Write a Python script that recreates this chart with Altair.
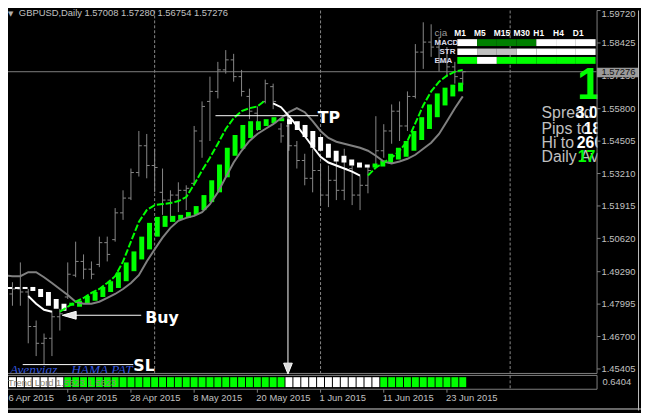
import altair as alt
import pandas as pd

# ---------------- values ----------------
bar_open = [1.4919, 1.4840, 1.4860, 1.4848, 1.4710, 1.4643, 1.4663, 1.4749, 1.4828, 1.4915,
            1.4970, 1.4939, 1.4958, 1.5045, 1.5057, 1.5164, 1.5223, 1.5325, 1.5432, 1.5353,
            1.5246, 1.5215, 1.5235, 1.5254, 1.5282, 1.5451, 1.5609, 1.5649, 1.5735, 1.5775,
            1.5708, 1.5629, 1.5562, 1.5609, 1.5668, 1.5499, 1.5511, 1.5432, 1.5373, 1.5302,
            1.5333, 1.5235, 1.5294, 1.5254, 1.5341, 1.5235, 1.5274, 1.5353, 1.5412, 1.5491,
            1.5570, 1.5511, 1.5629, 1.5806, 1.5846, 1.5826, 1.5767, 1.5747, 1.57008]
bar_high = [1.4978, 1.4887, 1.4966, 1.4860, 1.4734, 1.4682, 1.4773, 1.4781, 1.4966, 1.5049,
            1.4998, 1.4970, 1.5069, 1.5069, 1.5183, 1.5254, 1.5341, 1.5491, 1.5479, 1.5420,
            1.5341, 1.5254, 1.5286, 1.5274, 1.5511, 1.5609, 1.5708, 1.5767, 1.5814, 1.5799,
            1.5735, 1.5660, 1.5589, 1.5696, 1.5680, 1.5522, 1.5550, 1.5451, 1.5400, 1.5420,
            1.5361, 1.5353, 1.5373, 1.5420, 1.5353, 1.5313, 1.5353, 1.5550, 1.5518, 1.5597,
            1.5609, 1.5649, 1.5838, 1.5925, 1.5917, 1.5866, 1.5826, 1.5767, 1.57280]
bar_low = [1.4852, 1.4793, 1.4793, 1.4643, 1.4592, 1.4560, 1.4592, 1.4694, 1.4820, 1.4907,
           1.4899, 1.4899, 1.4947, 1.4970, 1.5049, 1.5136, 1.5215, 1.5309, 1.5302, 1.5246,
           1.5156, 1.5128, 1.5167, 1.5175, 1.5274, 1.5384, 1.5451, 1.5621, 1.5720, 1.5688,
           1.5629, 1.5538, 1.5491, 1.5601, 1.5578, 1.5444, 1.5412, 1.5341, 1.5274, 1.5246,
           1.5195, 1.5187, 1.5215, 1.5215, 1.5195, 1.5175, 1.5242, 1.5341, 1.5384, 1.5440,
           1.5451, 1.5491, 1.5621, 1.5739, 1.5787, 1.5728, 1.5708, 1.5680, 1.56754]
bar_close = [1.4880, 1.4860, 1.4848, 1.4710, 1.4643, 1.4663, 1.4749, 1.4761, 1.4919, 1.4970,
             1.4939, 1.4919, 1.5045, 1.4998, 1.5164, 1.5223, 1.5325, 1.5432, 1.5353, 1.5345,
             1.5215, 1.5235, 1.5254, 1.5262, 1.5491, 1.5589, 1.5649, 1.5735, 1.5775, 1.5708,
             1.5649, 1.5570, 1.5511, 1.5680, 1.5609, 1.5471, 1.5432, 1.5373, 1.5302, 1.5333,
             1.5235, 1.5294, 1.5254, 1.5341, 1.5235, 1.5274, 1.5333, 1.5412, 1.5491, 1.5570,
             1.5511, 1.5629, 1.5806, 1.5846, 1.5826, 1.5767, 1.5747, 1.5708, 1.57276]
ha_open = [1.4868, 1.4868, 1.4868, 1.4868, 1.4860, 1.4848, 1.4820, 1.4801, 1.4793, 1.4789,
           1.4801, 1.4813, 1.4828, 1.4848, 1.4864, 1.4891, 1.4931, 1.4978, 1.5018, 1.5069,
           1.5108, 1.5128, 1.5136, 1.5144, 1.5156, 1.5175, 1.5207, 1.5246, 1.5306, 1.5392,
           1.5420, 1.5463, 1.5495, 1.5511, 1.5522, 1.5530, 1.5538, 1.5530, 1.5515, 1.5491,
           1.5467, 1.5440, 1.5412, 1.5392, 1.5377, 1.5365, 1.5357, 1.5345, 1.5349, 1.5361,
           1.5377, 1.5388, 1.5412, 1.5455, 1.5499, 1.5546, 1.5593, 1.5629, 1.5649]
ha_close = [1.4860, 1.4860, 1.4860, 1.4852, 1.4828, 1.4793, 1.4781, 1.4773, 1.4805, 1.4813,
            1.4832, 1.4848, 1.4868, 1.4891, 1.4927, 1.4966, 1.5010, 1.5069, 1.5124, 1.5148,
            1.5152, 1.5152, 1.5156, 1.5167, 1.5191, 1.5235, 1.5294, 1.5357, 1.5424, 1.5475,
            1.5515, 1.5530, 1.5530, 1.5538, 1.5546, 1.5542, 1.5518, 1.5495, 1.5467, 1.5424,
            1.5412, 1.5384, 1.5369, 1.5365, 1.5353, 1.5345, 1.5345, 1.5361, 1.5373, 1.5400,
            1.5424, 1.5451, 1.5491, 1.5546, 1.5597, 1.5641, 1.5664, 1.5676, 1.5684]
ma_line = [1.4915, 1.4911, 1.4911, 1.4927, 1.4927, 1.4907, 1.4884, 1.4860, 1.4836, 1.4809,
           1.4801, 1.4801, 1.4809, 1.4824, 1.4840, 1.4860, 1.4884, 1.4915, 1.4970, 1.5018,
           1.5065, 1.5104, 1.5132, 1.5144, 1.5152, 1.5167, 1.5199, 1.5246, 1.5306, 1.5365,
           1.5412, 1.5451, 1.5479, 1.5499, 1.5518, 1.5542, 1.5566, 1.5582, 1.5566, 1.5530,
           1.5491, 1.5463, 1.5448, 1.5440, 1.5432, 1.5424, 1.5412, 1.5392, 1.5369, 1.5361,
           1.5369, 1.5380, 1.5396, 1.5420, 1.5444, 1.5479, 1.5530, 1.5582, 1.5629]
# trailing line segments: (first bar, values)
trail_green = [(7, [1.4769, 1.4789, 1.4809, 1.4824, 1.4844, 1.4860, 1.4884, 1.4911, 1.4970, 1.5049,
                    1.5128, 1.5175, 1.5195, 1.5199, 1.5203, 1.5211, 1.5227, 1.5278, 1.5333, 1.5384,
                    1.5440, 1.5499, 1.5542, 1.5570, 1.5582, 1.5589, 1.5613]),
               (46, [1.5313, 1.5345, 1.5365, 1.5384, 1.5412, 1.5451, 1.5522, 1.5593, 1.5649, 1.5688,
                     1.5712, 1.5728, 1.5735])]
trail_white = [(3, [1.4832, 1.4801, 1.4777, 1.4769]),
               (34, [1.5601, 1.5586, 1.5550, 1.5511, 1.5471, 1.5428, 1.5388, 1.5365, 1.5353, 1.5341,
                     1.5329, 1.5313])]
strip_runs = [("W", 8), ("G", 28), ("W", 12), ("G", 11)]

price_ticks = [1.59720, 1.58425, 1.57130, 1.55800, 1.54505, 1.53210, 1.51915,
               1.50620, 1.49290, 1.47995, 1.46700, 1.45405]
date_labels = ["6 Apr 2015", "16 Apr 2015", "28 Apr 2015", "8 May 2015",
               "20 May 2015", "1 Jun 2015", "11 Jun 2015", "23 Jun 2015"]
date_label_bar = [0, 8, 16, 24, 32, 40, 48, 56]
grid_bars = [19, 40, 64]
last_price = 1.57276
title_text = "GBPUSD,Daily  1.57008 1.57280 1.56754 1.57276"

tp_level, tp_from, tp_to, tp_arrow_bar, tp_arrow_end, tp_head = 1.5552, 26.7, 39.7, 35.875, 1.4564, 1.4542
buy_level, buy_from, buy_to, buy_head, buy_text_bar = 1.4755, 9.0, 17.3, 8.19, 17.8
sl_level, sl_from, sl_to = 1.4558, 2.3, 16.3

timeframes = ["M1", "M5", "M15", "M30", "H1", "H4", "D1"]
macd_row = ["W", "G", "G", "G", "W", "W", "W"]
str_row = ["W", "S", "S", "W", "W", "W", "W"]
ema_row = ["L", "W", "L", "L", "L", "L", "L"]
info_labels = ["Spread", "Pips to", "Hi to", "Daily Av"]
info_values = ["3.0", "18", "260", "17"]
signal_count = "1"
strip_label = "Trend Lord 1.5623 1.5623"
strip_value = "0.6404"

# ---------------- styling ----------------
GREY = "#888888"
LIME = "#00ff00"
SANS = "Liberation Sans"
ONE = pd.DataFrame({"k": [0]})

xs = alt.Scale(domain=[0.4375, 80.5625], nice=False, zero=False)
ys = alt.Scale(domain=[1.4374728, 1.5972048], nice=False, zero=False)


def X(f):
    return alt.X(f, type="quantitative", scale=xs, axis=None)


def Y(f):
    return alt.Y(f, type="quantitative", scale=ys, axis=None)


def txt(s, x, y, size, color, weight="normal", font=SANS, align="left", style="normal"):
    return alt.Chart(pd.DataFrame({"t": [s]})).mark_text(
        align=align, baseline="alphabetic", font=font, fontSize=size,
        fontWeight=weight, fontStyle=style, color=color
    ).encode(x=alt.value(x), y=alt.value(y), text="t:N")


def hrule(x1, x2, y, color, w=1):
    return alt.Chart(ONE).mark_rule(color=color, strokeWidth=w).encode(
        x=alt.value(x1), x2=alt.value(x2), y=alt.value(y))


def vrule(x, y1, y2, color, w=1):
    return alt.Chart(ONE).mark_rule(color=color, strokeWidth=w).encode(
        x=alt.value(x), y=alt.value(y1), y2=alt.value(y2))


def box(x1, x2, y1, y2, color):
    return alt.Chart(ONE).mark_rect(color=color, opacity=1).encode(
        x=alt.value(x1), x2=alt.value(x2), y=alt.value(y1), y2=alt.value(y2))


n = len(bar_open)
strip_state = []
for s, k in strip_runs:
    strip_state += [s] * k
bars = pd.DataFrame({"i": list(range(n)), "o": bar_open, "h": bar_high, "l": bar_low,
                     "c": bar_close, "ho": ha_open, "hc": ha_close, "ma": ma_line,
                     "st": strip_state})


def seg_frame(segs):
    rows = []
    for sid, (start, vals) in enumerate(segs):
        for k, v in enumerate(vals):
            rows.append({"i": start + k, "v": v, "seg": sid})
    return pd.DataFrame(rows)


green_df = seg_frame(trail_green)
white_df = seg_frame(trail_white)

layers = []
# grid + price line
layers.append(alt.Chart(pd.DataFrame({"g": grid_bars})).mark_rule(color=GREY, strokeDash=[3, 2]).encode(
    x=X("g"), y=alt.value(0), y2=alt.value(367)))
layers.append(alt.Chart(pd.DataFrame({"p": [last_price]})).mark_rule(color="#808080").encode(
    y=Y("p"), x=alt.value(0), x2=alt.value(596)))
# OHLC bars
layers.append(alt.Chart(bars).mark_rule(color=GREY, strokeWidth=1).encode(
    x=X("i"), y=Y("h"), y2=alt.Y2("l")))
layers.append(alt.Chart(bars).mark_tick(orient="horizontal", size=3, thickness=1, xOffset=-1.5,
                                        color=GREY, opacity=1).encode(x=X("i"), y=Y("o")))
layers.append(alt.Chart(bars).mark_tick(orient="horizontal", size=3, thickness=1, xOffset=1.5,
                                        color=GREY, opacity=1).encode(x=X("i"), y=Y("c")))
# smoothed bodies
layers.append(alt.Chart(bars).mark_bar(size=5, opacity=1).encode(
    x=X("i"), y=Y("ho"), y2=alt.Y2("hc"),
    color=alt.condition("datum.hc > datum.ho", alt.value(LIME), alt.value("#ffffff"))))
# moving average and trailing lines
layers.append(alt.Chart(bars).mark_line(color="#808080", strokeWidth=2).encode(x=X("i"), y=Y("ma")))
layers.append(alt.Chart(green_df).mark_line(color=LIME, strokeWidth=2, strokeDash=[7, 2]).encode(
    x=X("i"), y=Y("v"), detail="seg:N"))
layers.append(alt.Chart(white_df).mark_line(color="#ffffff", strokeWidth=2).encode(
    x=X("i"), y=Y("v"), detail="seg:N"))

# title
layers.append(txt("\u25bc", 0, 6, 7, "#b0b0b0", font="DejaVu Sans"))
layers.append(txt(title_text, 11, 6, 9.5, "#c0c0c0"))

# multi timeframe panel
band = alt.Scale(domain=timeframes, range=[455, 595], paddingInner=0, paddingOuter=0)
cell_col = alt.Color("s:N", scale=alt.Scale(domain=["W", "G", "S", "L"],
                                            range=["#ffffff", "#008000", "#c0c0c0", "#00ff00"]),
                     legend=None)
for row, (y1, y2) in zip([macd_row, str_row, ema_row], [(29, 36), (38.5, 45), (47, 54)]):
    layers.append(alt.Chart(pd.DataFrame({"tf": timeframes, "s": row})).mark_rect(opacity=1).encode(
        x=alt.X("tf:N", scale=band, axis=None), y=alt.value(y1), y2=alt.value(y2), color=cell_col))
layers.append(alt.Chart(pd.DataFrame({"tf": timeframes})).mark_text(
    align="left", baseline="alphabetic", dx=-13, font=SANS, fontSize=8.5, fontWeight="bold",
    color="#ffffff").encode(x=alt.X("tf:N", scale=band, axis=None), y=alt.value(25.3), text="tf:N"))
layers.append(txt("cja", 432, 25.3, 10, "#9a9a9a"))
layers.append(txt("MACD", 432, 34.7, 8, "#dcdcec", weight="bold"))
layers.append(txt("STR", 437, 44, 8, "#dcdcec", weight="bold"))
layers.append(txt("EMA", 432, 53, 8, "#dcdcec", weight="bold"))

# big signal and info lines
layers.append(txt(signal_count, 601, 90, 44, LIME, weight="bold", align="right"))
info_base = [109.3, 124.7, 139.7, 153.7]
info_x = [575, 583, 576, 577]
info_col = ["#ffffff", "#ffffff", "#ffffff", LIME]
for lab, val, yb, xv, cv in zip(info_labels, info_values, info_base, info_x, info_col):
    layers.append(txt(lab, 540.3, yb, 16, "#c0c0c0"))
    layers.append(txt(val, xv, yb, 16, cv, weight="bold"))

# annotations
layers.append(alt.Chart(pd.DataFrame({"a": [tp_from], "b": [tp_to], "p": [tp_level]})).mark_rule(
    color="#ffffff").encode(x=X("a"), x2=alt.X2("b"), y=Y("p")))
layers.append(alt.Chart(pd.DataFrame({"a": [tp_arrow_bar], "p": [tp_level], "q": [tp_arrow_end]})).mark_rule(
    color="#ffffff").encode(x=X("a"), y=Y("p"), y2=alt.Y2("q")))
layers.append(alt.Chart(pd.DataFrame({"b": [tp_to], "p": [tp_level], "t": ["TP"]})).mark_text(
    align="left", baseline="alphabetic", dx=-0.5, dy=7, font="DejaVu Sans", fontSize=16,
    fontWeight="bold", color="#ffffff").encode(x=X("b"), y=Y("p"), text="t:N"))
layers.append(alt.Chart(pd.DataFrame({"a": [buy_from], "b": [buy_to], "p": [buy_level]})).mark_rule(
    color="#ffffff").encode(x=X("a"), x2=alt.X2("b"), y=Y("p")))
layers.append(alt.Chart(pd.DataFrame({"a": [buy_head], "p": [buy_level]})).mark_point(
    shape="M-1,0L1,-0.57L1,0.57Z", size=196, filled=True, color="#e6e6e6", opacity=1,
    stroke="#ffffff", strokeWidth=1).encode(x=X("a"), y=Y("p")))
layers.append(alt.Chart(pd.DataFrame({"b": [buy_text_bar], "p": [buy_level], "t": ["Buy"]})).mark_text(
    align="left", baseline="alphabetic", dy=8, font="DejaVu Sans", fontSize=16,
    fontWeight="bold", color="#ffffff").encode(x=X("b"), y=Y("p"), text="t:N"))
layers.append(alt.Chart(pd.DataFrame({"a": [sl_from], "b": [sl_to], "p": [sl_level]})).mark_rule(
    color="#ffffff").encode(x=X("a"), x2=alt.X2("b"), y=Y("p")))
layers.append(alt.Chart(pd.DataFrame({"b": [sl_to], "p": [sl_level], "t": ["SL"]})).mark_text(
    align="left", baseline="alphabetic", dy=6, font="DejaVu Sans", fontSize=16,
    fontWeight="bold", color="#ffffff").encode(x=X("b"), y=Y("p"), text="t:N"))
layers.append(txt("Avenviaz", 2, 368, 13.5, "#3355dd", font="Liberation Serif", style="italic"))
layers.append(txt("HAMA PAT", 64, 368, 13.5, "#3355dd", font="Liberation Serif", style="italic"))

# masks and frames
layers.append(box(597, 641, 0, 367.5, "#000000"))
layers.append(box(0, 596, 367.5, 369.5, "#000000"))
layers.append(vrule(596.5, 0, 367.5, "#808080"))
layers.append(hrule(0, 596.5, 367.5, "#808080"))
layers.append(hrule(0, 596.5, 369.5, "#808080"))
layers.append(hrule(0, 596.5, 383.5, "#808080"))
layers.append(vrule(596.5, 369.5, 383.5, "#808080"))
layers.append(alt.Chart(pd.DataFrame({"g": [g for g in grid_bars if g >= n]})).mark_rule(
    color=GREY, strokeDash=[3, 2]).encode(x=X("g"), y=alt.value(369.5), y2=alt.value(383.5)))

# indicator strip
layers.append(alt.Chart(bars).mark_tick(orient="vertical", size=10, thickness=7, opacity=1).encode(
    x=X("i"), y=alt.value(376.3),
    color=alt.condition("datum.st == 'G'", alt.value(LIME), alt.value("#ffffff"))))
layers.append(txt(strip_label, 0, 380, 9.5, "#8c8470"))
layers.append(txt(strip_value, 602, 379.7, 9.5, "#c0c0c0"))

# price axis
pt = pd.DataFrame({"p": price_ticks, "t": [f"{p:.5f}" for p in price_ticks]})
layers.append(alt.Chart(pt).mark_rule(color="#808080").encode(
    y=Y("p"), x=alt.value(596.5), x2=alt.value(600)))
layers.append(alt.Chart(pt.iloc[1:]).mark_text(align="left", baseline="alphabetic", dy=3.2, font=SANS,
                                               fontSize=9.5, color="#c0c0c0").encode(
    x=alt.value(601), y=Y("p"), text="t:N"))
layers.append(alt.Chart(pt.iloc[:1]).mark_text(align="left", baseline="alphabetic", dy=7, font=SANS,
                                               fontSize=9.5, color="#c0c0c0").encode(
    x=alt.value(601), y=Y("p"), text="t:N"))
layers.append(box(596.5, 639, 58, 67.5, "#9a9a9a"))
layers.append(alt.Chart(pd.DataFrame({"p": [last_price], "t": [f"{last_price:.5f}"]})).mark_text(
    align="left", baseline="alphabetic", font=SANS, fontSize=9.5, color="#101010").encode(
    x=alt.value(601), y=alt.value(65.5), text="t:N"))

# date axis
dl = pd.DataFrame({"b": date_label_bar, "t": date_labels})
layers.append(alt.Chart(dl).mark_rule(color="#808080").encode(
    x=X("b"), y=alt.value(383.5), y2=alt.value(387)))
layers.append(alt.Chart(dl.iloc[1:]).mark_text(align="left", baseline="alphabetic", dx=-1, font=SANS,
                                               fontSize=9.5, color="#c0c0c0").encode(
    x=X("b"), y=alt.value(395.3), text="t:N"))
layers.append(alt.Chart(dl.iloc[:1]).mark_text(align="left", baseline="alphabetic", dx=4, font=SANS,
                                               fontSize=9.5, color="#c0c0c0").encode(
    x=X("b"), y=alt.value(395.3), text="t:N"))

# TP arrow head on top
layers.append(alt.Chart(pd.DataFrame({"a": [tp_arrow_bar], "p": [tp_head]})).mark_point(
    shape="M0,1L-0.8,-1L0.8,-1Z", size=121, filled=True, color="#dcdcdc", opacity=1,
    stroke="#ffffff", strokeWidth=1).encode(x=X("a"), y=Y("p")))

# window border
layers.append(hrule(0, 641, 403.5, "#d0d0d0"))
layers.append(vrule(638.5, 0, 405, "#c0c0c0"))

chart = alt.layer(*layers).resolve_scale(
    x="independent", y="independent", color="independent"
).properties(
    width=641, height=405, padding=0, autosize=alt.AutoSizeParams(type="none")
).configure(background="#000000").configure_view(strokeWidth=0)

chart.save("out.html", embed_options={"renderer": "svg", "actions": False})
